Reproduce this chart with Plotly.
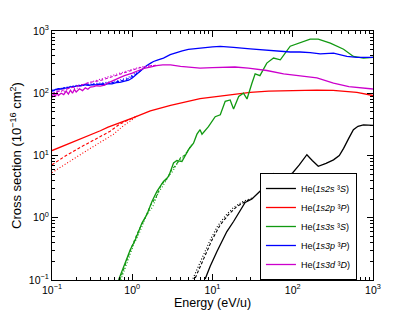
import plotly.graph_objects as go

# ---------------- data ----------------
# He(1s2s 3S) - black
bk_x = [8.1, 9.36, 11.4, 13.1, 15.1, 18.3, 22.2, 25.5, 31, 36, 43, 50, 57.6, 66, 76, 88, 100, 120, 150, 175, 208, 260, 322, 380, 430, 500, 570, 650, 760, 1000]
bk_y = [0.104, 0.166, 0.29, 0.42, 0.6, 0.87, 1.34, 1.76, 2.0, 2.4, 3.0, 4.0, 5.1, 4.5, 4.07, 4.7, 5.3, 7.0, 10.3, 8.3, 6.7, 7.5, 8.5, 10, 13, 19, 26, 29.5, 31, 30.5]
bk_dash_x = [6.1, 8.1, 9.85, 12.5, 15.8, 20.1, 25.5, 31]
bk_dash_y = [0.108, 0.24, 0.44, 0.77, 1.12, 1.52, 1.83, 2.07]
bk_dot_x = [5.7, 7.5, 9.2, 11.6, 14.7, 18.7, 24.0, 30]
bk_dot_y = [0.105, 0.23, 0.42, 0.74, 1.1, 1.5, 1.82, 2.05]

# He(1s2p 3P) - red
rd_x = [0.1, 0.15, 0.225, 0.3, 0.4, 0.5, 0.7, 1.0, 1.68, 3, 7, 12, 20, 29.5, 50, 123, 200, 318, 450, 630, 1000]
rd_y = [12, 14.8, 18.5, 21.5, 25, 28.5, 34, 40, 52, 64, 82, 90, 97, 103, 108, 111, 112, 111, 108, 103, 92]
rd_dash_x = [0.1, 0.15, 0.225, 0.3, 0.4, 0.53, 0.7, 0.9, 1.1]
rd_dash_y = [7.1, 10, 13.5, 16.5, 20, 24.5, 32, 37, 42]
rd_dot_x = [0.1, 0.15, 0.225, 0.3, 0.4, 0.585, 0.75, 0.95, 1.15]
rd_dot_y = [5.3, 7.5, 10.3, 13, 16.5, 22, 29, 36, 43]

# He(1s3s 3S) - green
gr_x = [0.675, 0.818, 0.944, 1.09, 1.32, 1.52, 1.76, 2.03, 2.45, 2.84, 3.27, 3.6, 4.16, 5.03, 5.8, 6.4, 7.0, 7.4, 8.9, 10.8, 12.5, 14.4, 16.6, 18.3, 21.2, 24.3, 26.9, 31, 34, 39, 47.5, 57.6, 70, 93, 123, 165, 208, 294, 430, 570, 760, 1000]
gr_y = [0.1, 0.198, 0.306, 0.44, 0.82, 1.12, 1.83, 2.65, 3.83, 4.6, 7.6, 8.3, 8.0, 12.4, 15.8, 22, 26, 22, 29, 42, 45, 74, 78, 56, 89, 100, 81, 145, 205, 192, 305, 368, 345, 570, 650, 740, 740, 640, 510, 390, 368, 376]
gr_dash_x = [0.70, 0.85, 1.0, 1.2, 1.45, 1.7, 2.0, 2.3, 2.7, 3.1, 3.5, 4.0, 4.6, 5.5]
gr_dash_y = [0.1, 0.21, 0.36, 0.62, 1.0, 1.6, 2.2, 3.4, 4.2, 5.9, 7.0, 9.2, 10.3, 15]
gr_dot_x = [0.72, 0.88, 1.05, 1.25, 1.5, 1.8, 2.1, 2.4, 2.8, 3.2, 3.7, 4.2, 4.8, 5.6]
gr_dot_y = [0.1, 0.2, 0.38, 0.6, 1.1, 1.5, 2.5, 3.2, 4.6, 5.6, 7.8, 8.8, 11.5, 15.5]

# He(1s3p 3P) - blue
bl_x = [0.1, 0.11, 0.12, 0.13, 0.14, 0.15, 0.17, 0.19, 0.21, 0.23, 0.26, 0.29, 0.32, 0.36, 0.4, 0.45, 0.5, 0.56, 0.63, 0.7, 0.8, 0.9, 1.0, 1.1, 1.26, 1.4, 1.52, 1.7, 1.84, 2.1, 2.45, 2.97, 3.5, 4.2, 5.0, 6.0, 7.0, 8.5, 10, 12.5, 15, 18.3, 29.5, 47.5, 93, 123, 165, 220, 322, 473, 630, 1000]
bl_y = [110, 114, 118, 117, 122, 121, 127, 128, 133, 132, 137, 134, 138, 136, 140, 137, 143, 141, 148, 150, 158, 162, 176, 195, 230, 258, 280, 305, 324, 345, 368, 416, 450, 480, 505, 520, 533, 545, 555, 565, 560, 544, 516, 490, 460, 460, 450, 428, 440, 390, 376, 376]
bl_dash_x = [0.1, 0.13, 0.17, 0.22, 0.3, 0.4, 0.53, 0.7, 0.9, 1.1, 1.3]
bl_dash_y = [108, 118, 126, 133, 136, 141, 146, 156, 172, 200, 236]
bl_dot_x = [0.1, 0.13, 0.17, 0.22, 0.3, 0.4, 0.53, 0.7, 0.9, 1.1, 1.3]
bl_dot_y = [112, 121, 129, 136, 140, 146, 152, 162, 180, 208, 242]

# He(1s3d 3D) - magenta
mg_x = [0.1, 0.105, 0.11, 0.115, 0.12, 0.13, 0.14, 0.15, 0.16, 0.17, 0.18, 0.19, 0.2, 0.22, 0.24, 0.26, 0.28, 0.3, 0.33, 0.36, 0.4, 0.45, 0.5, 0.56, 0.63, 0.7, 0.8, 0.9, 1.0, 1.2, 1.4, 1.67, 2.0, 2.4, 3.0, 4.0, 5.5, 7.0, 10, 14, 19, 28, 47.5, 77, 123, 200, 322, 500, 1000]
mg_y = [85, 100, 88, 104, 92, 100, 95, 108, 97, 112, 100, 115, 105, 118, 110, 122, 116, 126, 128, 132, 130, 135, 147, 158, 170, 178, 192, 200, 211, 232, 250, 262, 278, 285, 285, 270, 258, 253, 258, 264, 264, 254, 232, 205, 192, 176, 146, 128, 117]
mg_dash_x = [0.1, 0.13, 0.17, 0.225, 0.3, 0.4, 0.53, 0.7, 0.86, 1.0, 1.3, 1.7, 2.0]
mg_dash_y = [100, 110, 121, 135, 150, 160, 180, 200, 220, 235, 262, 275, 282]
mg_dot_x = [0.1, 0.12, 0.14, 0.17, 0.2, 0.25, 0.3, 0.38, 0.5, 0.65, 0.86, 1.1, 1.4, 1.8]
mg_dot_y = [92, 115, 104, 126, 118, 140, 150, 165, 185, 205, 230, 252, 268, 280]

labels = [
    "He(<i>1s2s</i> ³<i>S</i>)",
    "He(<i>1s2p</i> ³<i>P</i>)",
    "He(<i>1s3s</i> ³<i>S</i>)",
    "He(<i>1s3p</i> ³<i>P</i>)",
    "He(<i>1s3d</i> ³<i>D</i>)",
]
colors = ["#000000", "#ff0000", "#119911", "#0000ff", "#cc00cc"]

series = [
    (bk_x, bk_y, bk_dash_x, bk_dash_y, bk_dot_x, bk_dot_y),
    (rd_x, rd_y, rd_dash_x, rd_dash_y, rd_dot_x, rd_dot_y),
    (gr_x, gr_y, gr_dash_x, gr_dash_y, gr_dot_x, gr_dot_y),
    (bl_x, bl_y, bl_dash_x, bl_dash_y, bl_dot_x, bl_dot_y),
    (mg_x, mg_y, mg_dash_x, mg_dash_y, mg_dot_x, mg_dot_y),
]

x_ticks = [0.1, 1, 10, 100, 1000]
x_tick_text = ["10<sup>−1</sup>", "10<sup>0</sup>", "10<sup>1</sup>", "10<sup>2</sup>", "10<sup>3</sup>"]
y_ticks = [0.1, 1, 10, 100, 1000]
y_tick_text = ["10<sup>−1</sup>", "10<sup>0</sup>", "10<sup>1</sup>", "10<sup>2</sup>", "10<sup>3</sup>"]

# ---------------- figure ----------------
fig = go.Figure()
for i, (sx, sy, dx, dy, ox, oy) in enumerate(series):
    c = colors[i]
    fig.add_trace(go.Scatter(x=ox, y=oy, mode="lines", line=dict(color=c, width=1.1, dash="1px,2px"),
                             showlegend=False, hoverinfo="skip"))
    fig.add_trace(go.Scatter(x=dx, y=dy, mode="lines", line=dict(color=c, width=1.1, dash="3px,2px"),
                             showlegend=False, hoverinfo="skip"))
    fig.add_trace(go.Scatter(x=sx, y=sy, mode="lines", name=labels[i],
                             line=dict(color=c, width=1.3)))

minor_vals = [k * 10.0 ** e for e in range(-1, 3) for k in range(2, 10)]

axis_common = dict(
    type="log", showline=True, linecolor="black", linewidth=1, mirror="allticks",
    ticks="inside", ticklen=6, tickcolor="black", showgrid=False, zeroline=False,
    minor=dict(ticks="inside", ticklen=3, tickcolor="black", tickvals=minor_vals, showgrid=False),
    tickfont=dict(size=10.5, color="black"),
)

# page body has an 8px margin: figure is sized/offset so the plot area lands at x 52-373, y 31-280
fig.update_layout(
    width=407, height=304,
    margin=dict(l=44, r=42, t=23, b=32, autoexpand=False),
    paper_bgcolor="white", plot_bgcolor="white",
    font=dict(family="Liberation Sans, Arial, sans-serif", size=11, color="black"),
    xaxis=dict(axis_common, range=[-1, 3], tickvals=x_ticks, ticktext=x_tick_text,
               title=dict(text="Energy (eV/u)", font=dict(size=12.5), standoff=2)),
    yaxis=dict(axis_common, range=[-1, 3], tickvals=y_ticks, ticktext=y_tick_text,
               title=dict(text="Cross section (10<sup>−16</sup> cm<sup>2</sup>)", font=dict(size=13), standoff=6)),
    legend=dict(x=0.95, y=0.0, xanchor="right", yanchor="bottom",
                bgcolor="white", bordercolor="black", borderwidth=1,
                font=dict(size=9), tracegroupgap=0, itemwidth=30),
    showlegend=True,
)

fig.write_html("out.html")
